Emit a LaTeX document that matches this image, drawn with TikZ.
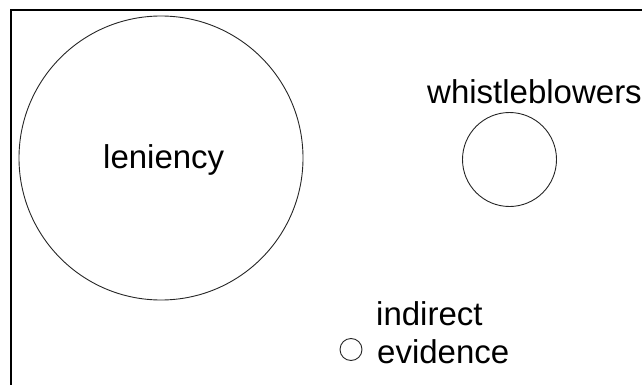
\documentclass[tikz,border=0pt]{standalone}
\usepackage{fontspec}
\setmainfont{Liberation Sans}
\begin{document}
\begin{tikzpicture}[x=1pt,y=-1pt,
  ring/.style={draw=black!85,line width=0.9pt,circle,inner sep=0pt},
  lbl/.style={font=\fontsize{33}{39}\selectfont,inner sep=0pt,anchor=base west}]
\useasboundingbox (0,0) rectangle (642,385);
\begin{scope}
\clip (0,0) rectangle (642,385);
\draw[line width=2pt] (10.5,400) -- (10.5,10.5) -- (660,10.5);
\end{scope}
\node[ring,minimum size=284pt] (len) at (161,158) {};
\node[ring,minimum size=94pt] (wb) at (509.5,159.5) {};
\node[ring,minimum size=22pt] (ie) at (351,349.5) {};
\node[lbl] (lenT) at (103,168) {leniency};
\node[lbl] (wbT) at (427,103) {whistleblowers};
\node[lbl] (ieT1) at (376,325) {indirect};
\node[lbl] (ieT2) at (377,363) {evidence};
\end{tikzpicture}
\end{document}
